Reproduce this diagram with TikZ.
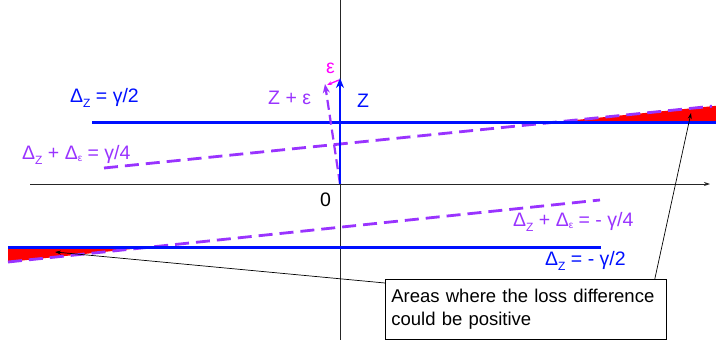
\documentclass[tikz,border=0pt]{standalone}
\usepackage{fontspec}
\setmainfont{Liberation Sans}
\usetikzlibrary{arrows.meta}
\definecolor{zblue}{RGB}{0,16,255}
\definecolor{zpurple}{RGB}{153,51,255}
\definecolor{zmag}{RGB}{255,0,255}
\newcommand{\subZ}{\raisebox{-5pt}{\fontsize{12}{12}\selectfont Z}}
\newcommand{\subE}{\raisebox{-2pt}{\fontsize{10}{10}\selectfont ε}}
\begin{document}
\begin{tikzpicture}[x=1pt,y=-1pt,
  axis/.style={draw=black!85, line width=0.9pt},
  bline/.style={draw=zblue, line width=3pt},
  dline/.style={draw=zpurple, line width=2.8pt, dash pattern=on 14pt off 7pt},
  lbl/.style={font=\fontsize{19.5}{22}\selectfont, inner sep=0pt, anchor=base west},
  callout/.style={draw=black, line width=0.7pt, -{Stealth[length=6pt,width=4pt]}},
]
\useasboundingbox (0,0) rectangle (716,348);
% red areas
\coordinate (ra1) at (556,122);
\coordinate (ra2) at (716,122);
\coordinate (ra3) at (716,105.8);
\coordinate (rb1) at (8,247);
\coordinate (rb2) at (151,247);
\coordinate (rb3) at (8,262);
\fill[red] (ra1) -- (ra2) -- (ra3) -- cycle;
\fill[red] (rb1) -- (rb2) -- (rb3) -- cycle;
% axes
\coordinate (hx0) at (30,184);
\coordinate (hx1) at (710,184);
\coordinate (vy0) at (340,0);
\coordinate (vy1) at (340,340);
\coordinate (O) at (340,184);
\draw[axis, -{Stealth[length=6pt,width=4pt]}] (hx0) -- (hx1);
\draw[axis] (vy0) -- (vy1);
% blue lines
\coordinate (bu0) at (92,122);
\coordinate (bu1) at (716,122);
\coordinate (bl0) at (8,247);
\coordinate (bl1) at (601,247);
% dashed lines
\coordinate (du0) at (104,168);
\coordinate (du1) at (712,106.2);
\coordinate (dl0) at (8,262);
\coordinate (dl1) at (600,200);
\draw[dline] (du0) -- (du1);
\draw[dline] (dl0) -- (dl1);
\draw[bline] (bu0) -- (bu1);
\draw[bline] (bl0) -- (bl1);
% vectors
\coordinate (Zt) at (340,78);
\coordinate (Zet) at (325,84);
\draw[draw=zpurple, line width=2.2pt, dash pattern=on 10pt off 5pt, -{Stealth[length=9pt,width=7pt]}] (O) -- (Zet);
\draw[draw=zblue, line width=2.8pt, -{Stealth[length=10pt,width=8pt]}] (O) -- (Zt);
\coordinate (es) at (339,80);
\coordinate (ee) at (327,85);
\draw[draw=zmag, line width=1.3pt, -{Stealth[length=5pt,width=4pt]}] (es) -- (ee);
% labels
\node[lbl, text=zblue] (l1) at (70,102) {Δ\subZ{} = γ/2};
\node[lbl, text=zpurple] (l2) at (22,159) {Δ\subZ{} + Δ\subE{} = γ/4};
\node[lbl, text=zpurple] (l3) at (268,104) {Z + ε};
\node[lbl, text=zblue] (l4) at (357,107) {Z};
\node[lbl, text=zmag] (l5) at (326,74) {ε};
\node[lbl, text=black] (l6) at (320,206) {0};
\node[lbl, text=zpurple] (l7) at (513,226) {Δ\subZ{} + Δ\subE{} = - γ/4};
\node[lbl, text=zblue] (l8) at (545,265) {Δ\subZ{} = - γ/2};
% callout box
\node[draw=black, line width=0.8pt, anchor=north west, minimum width=281pt, minimum height=60pt,
      text width=269pt, inner xsep=6pt, align=left, font=\fontsize{18.5}{23}\selectfont] (box) at (385,279)
  {Areas where the loss difference\\could be positive};
\coordinate (ca) at (55,252);
\coordinate (cb) at (691,113);
\draw[callout] ([yshift=-4pt]box.north west) -- (ca);
\draw[callout] ([xshift=-12pt]box.north east) -- (cb);
\end{tikzpicture}
\end{document}
